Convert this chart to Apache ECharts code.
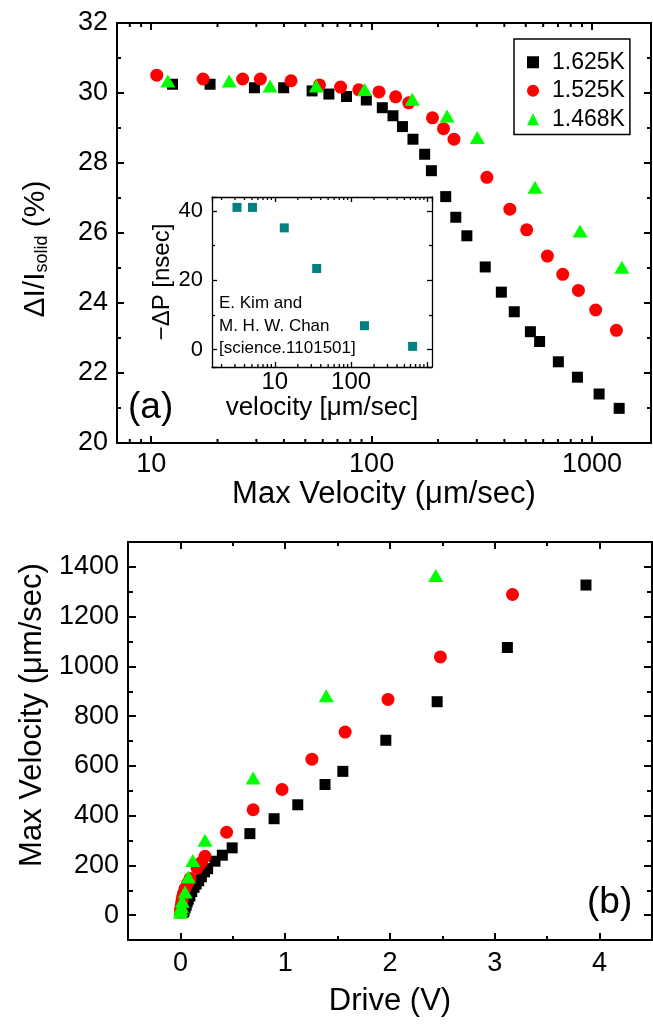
<!DOCTYPE html>
<html><head><meta charset="utf-8">
<script src="https://cdn.jsdelivr.net/npm/echarts@6/dist/echarts.min.js"></script>
<style>html,body{margin:0;padding:0;background:#fff}#c{width:653px;height:1024px}</style>
</head><body><div id="c"></div>
<script>
// ---------- data ----------
const seriesNames = ['1.625K', '1.525K', '1.468K'];
// Panel (a): max velocity (um/sec) vs dI/I_solid (%)
const blackVel   = [12.5, 18.5, 29.4, 39.9, 53.7, 64, 76.9, 94.6, 111.8, 125, 138, 154, 174, 186.7, 216.8, 240.9, 270.4, 327.6, 387.6, 443.6, 525, 578, 703, 858, 1076, 1327];
const blackRatio = [30.25, 30.25, 30.15, 30.15, 30.06, 29.97, 29.9, 29.8, 29.58, 29.35, 29.04, 28.68, 28.25, 27.78, 27.04, 26.45, 25.92, 25.03, 24.31, 23.75, 23.18, 22.9, 22.32, 21.88, 21.4, 20.99];
const redVel     = [10.6, 17.2, 26.0, 31.3, 43.1, 58.0, 72.3, 87.5, 108, 128.5, 147.3, 188.8, 211.9, 236.4, 333.2, 423.6, 505, 627, 736, 867, 1038, 1289];
const redRatio   = [30.51, 30.4, 30.4, 30.4, 30.35, 30.23, 30.17, 30.09, 30.03, 29.89, 29.72, 29.29, 28.98, 28.68, 27.59, 26.68, 26.09, 25.34, 24.82, 24.36, 23.8, 23.22];
const greenVel   = [11.9, 22.6, 34.6, 56.1, 92.9, 153, 219.9, 301.4, 550.8, 882, 1365];
const greenRatio = [30.34, 30.34, 30.2, 30.2, 30.1, 29.82, 29.34, 28.73, 27.31, 26.06, 25.02];
// Panel (b): drive (V) vs max velocity (um/sec)
const blackDrive = [0.03, 0.035, 0.045, 0.055, 0.065, 0.075, 0.09, 0.108, 0.13, 0.15, 0.175, 0.2, 0.23, 0.26, 0.33, 0.4, 0.494, 0.663, 0.894, 1.12, 1.38, 1.55, 1.96, 2.45, 3.12, 3.87];
const redDrive   = [0.001, 0.002, 0.004, 0.006, 0.01, 0.015, 0.022, 0.03, 0.045, 0.07, 0.092, 0.16, 0.2, 0.235, 0.441, 0.694, 0.97, 1.255, 1.572, 1.981, 2.481, 3.169];
const greenDrive = [0.001, 0.004, 0.01, 0.018, 0.045, 0.076, 0.118, 0.235, 0.694, 1.392, 2.437];
// Inset: velocity vs -dP (nsec)
const insetVel = [3.19, 5.09, 13.3, 35.4, 149.7, 640];
const insetDP  = [41, 41, 35.1, 23.4, 6.9, 0.95];
const insetNote = ['E. Kim and', 'M. H. W. Chan', '[science.1101501]'];
const insetXLabels = [10, 100];
// minor tick values for the log axes
const logMinorMain  = [8, 9, 20, 30, 40, 50, 60, 70, 80, 90, 200, 300, 400, 500, 600, 700, 800, 900];
const logMinorInset = [2, 3, 4, 5, 6, 7, 8, 9, 20, 30, 40, 50, 60, 70, 80, 90, 200, 300, 400, 500, 600, 700, 800, 900];

// ---------- chart ----------
const FONT = "'Liberation Sans', Arial, Helvetica, sans-serif";
const zip = (a, b) => a.map((v, i) => [v, b[i]]);
const fmt = (v) => String(Math.round(v * 1000) / 1000);

function ax(o) {
  const lw = o.lw || 2;
  return {
    gridIndex: o.grid, type: o.type || 'value', position: o.position,
    min: o.min, max: o.max, splitNumber: o.splitNumber,
    axisLine: { show: true, onZero: false, lineStyle: { color: '#000', width: lw } },
    axisTick: { show: true, inside: true, length: o.tickLen || 7, lineStyle: { color: '#000', width: lw } },
    minorTick: { show: !!o.minor, splitNumber: 2, length: o.minorLen || 4, lineStyle: { color: '#000', width: lw } },
    splitLine: { show: false }, minorSplitLine: { show: false },
    axisLabel: {
      show: !!o.labels, fontFamily: FONT, fontSize: o.fs || 27, color: '#000', margin: o.margin || 9,
      showMinLabel: !!o.showEnds, showMaxLabel: !!o.showEnds,
      formatter: o.formatter || fmt
    },
    name: o.name || '', nameLocation: 'middle', nameGap: o.nameGap || 30,
    nameTextStyle: o.nameTextStyle || { fontFamily: FONT, fontSize: o.nfs || 31, color: '#000', padding: o.namePad || 0 },
    silent: true
  };
}

function minorTickSeries(xi, yi, vals, yMin, yMax, len, lw) {
  return {
    type: 'custom', coordinateSystem: 'cartesian2d', xAxisIndex: xi, yAxisIndex: yi,
    silent: true, clip: false, z: 5,
    dimensions: ['x', 'y'], encode: { x: 0, y: 1 },
    data: vals.map(v => [v, yMin]),
    renderItem: (params, api) => {
      const v = api.value(0);
      const b = api.coord([v, yMin]);
      const t = api.coord([v, yMax]);
      return { type: 'group', children: [
        { type: 'line', shape: { x1: b[0], y1: b[1], x2: b[0], y2: b[1] - len }, style: { stroke: '#000', lineWidth: lw } },
        { type: 'line', shape: { x1: t[0], y1: t[1], x2: t[0], y2: t[1] + len }, style: { stroke: '#000', lineWidth: lw } }
      ] };
    }
  };
}

const TOP = { xmin: 7, xmax: 1850, ymin: 20, ymax: 32 };
const INS = { xmin: 1.5, xmax: 1150, ymin: -5, ymax: 44 };
const BOT = { xmin: -0.5, xmax: 4.5, ymin: -100, ymax: 1500 };

const option = {
  backgroundColor: '#fff',
  animation: false,
  textStyle: { fontFamily: FONT },
  grid: [
    { left: 117, top: 23, width: 534, height: 420, outerBoundsMode: 'none' },
    { left: 212, top: 197, width: 220, height: 170, outerBoundsMode: 'none' },
    { left: 128, top: 542, width: 524, height: 398, outerBoundsMode: 'none' }
  ],
  xAxis: [
    ax({ grid: 0, type: 'log', position: 'bottom', min: TOP.xmin, max: TOP.xmax, labels: true, margin: 8,
         name: 'Max Velocity (\u03BCm/sec)', nameGap: 36 }),
    ax({ grid: 0, type: 'log', position: 'top', min: TOP.xmin, max: TOP.xmax }),
    ax({ grid: 1, type: 'log', position: 'bottom', min: INS.xmin, max: INS.xmax, labels: true, fs: 24, margin: 3, lw: 1.3, tickLen: 5,
         formatter: (v) => insetXLabels.indexOf(Math.round(v)) >= 0 ? fmt(v) : '',
         name: 'velocity [\u03BCm/sec]', nameGap: 27, nfs: 26 }),
    ax({ grid: 1, type: 'log', position: 'top', min: INS.xmin, max: INS.xmax, lw: 1.3, tickLen: 5 }),
    ax({ grid: 2, position: 'bottom', min: BOT.xmin, max: BOT.xmax, splitNumber: 5, minor: true, labels: true, margin: 10,
         name: 'Drive (V)', nameGap: 46 }),
    ax({ grid: 2, position: 'top', min: BOT.xmin, max: BOT.xmax, splitNumber: 5, minor: true })
  ],
  yAxis: [
    ax({ grid: 0, position: 'left', min: TOP.ymin, max: TOP.ymax, splitNumber: 6, minor: true, labels: true, showEnds: true,
         name: '{m|\u0394I/I}{s|solid}{m| (%)}', nameGap: 66,
         nameTextStyle: { color: '#000', fontFamily: FONT, padding: [0, 32, 0, 0],
           rich: { m: { fontSize: 30, fontFamily: FONT, color: '#000' },
                   s: { fontSize: 18, fontFamily: FONT, color: '#000', padding: [13, 0, 0, 0] } } } }),
    ax({ grid: 0, position: 'right', min: TOP.ymin, max: TOP.ymax, splitNumber: 6, minor: true }),
    ax({ grid: 1, position: 'left', min: INS.ymin, max: INS.ymax, splitNumber: 2, minor: true, labels: true, fs: 22, margin: 9,
         lw: 1.3, tickLen: 5, minorLen: 3, name: '\u2212\u0394P [nsec]', nameGap: 37, nfs: 24 }),
    ax({ grid: 1, position: 'right', min: INS.ymin, max: INS.ymax, splitNumber: 2, minor: true, lw: 1.3, tickLen: 5, minorLen: 3 }),
    ax({ grid: 2, position: 'left', min: BOT.ymin, max: BOT.ymax, splitNumber: 8, minor: true, labels: true, margin: 9,
         tickLen: 8, minorLen: 5, name: 'Max Velocity (\u03BCm/sec)', nameGap: 78, namePad: [0, 0, 0, 52] }),
    ax({ grid: 2, position: 'right', min: BOT.ymin, max: BOT.ymax, splitNumber: 8, minor: true, tickLen: 8, minorLen: 5 })
  ],
  legend: {
    orient: 'vertical', left: 514, top: 39,
    data: seriesNames,
    borderColor: '#000', borderWidth: 1.5, padding: [9, 5, 1, 13],
    itemWidth: 12, itemHeight: 12, itemGap: 0,
    textStyle: { fontFamily: FONT, fontSize: 23, color: '#000', lineHeight: 28.5, padding: [0, 0, 0, 8] },
    selectedMode: false
  },
  graphic: [
    { type: 'text', x: 128, y: 408, style: { text: '(a)', font: '37px ' + FONT, fill: '#000', verticalAlign: 'middle' } },
    { type: 'text', x: 587, y: 903, style: { text: '(b)', font: '37px ' + FONT, fill: '#000', verticalAlign: 'middle' } },
    { type: 'text', x: 219, y: 303, style: { text: insetNote[0], font: '17px ' + FONT, fill: '#000', verticalAlign: 'middle' } },
    { type: 'text', x: 219, y: 326, style: { text: insetNote[1], font: '17px ' + FONT, fill: '#000', verticalAlign: 'middle' } },
    { type: 'text', x: 219, y: 348, style: { text: insetNote[2], font: '17px ' + FONT, fill: '#000', verticalAlign: 'middle' } }
  ],
  series: [
    { name: seriesNames[0], type: 'scatter', xAxisIndex: 0, yAxisIndex: 0, symbol: 'rect', symbolSize: 11,
      itemStyle: { color: '#000', opacity: 1 }, data: zip(blackVel, blackRatio) },
    { name: seriesNames[1], type: 'scatter', xAxisIndex: 0, yAxisIndex: 0, symbol: 'circle', symbolSize: 13,
      itemStyle: { color: '#ff0000', opacity: 1 }, data: zip(redVel, redRatio) },
    { name: seriesNames[2], type: 'scatter', xAxisIndex: 0, yAxisIndex: 0, symbol: 'triangle', symbolSize: [15, 13],
      itemStyle: { color: '#00ff00', opacity: 1 }, data: zip(greenVel, greenRatio) },
    { name: 'inset', type: 'scatter', xAxisIndex: 2, yAxisIndex: 2, symbol: 'rect', symbolSize: 9,
      itemStyle: { color: '#008080', opacity: 1 }, data: zip(insetVel, insetDP) },
    { name: seriesNames[0], type: 'scatter', xAxisIndex: 4, yAxisIndex: 4, symbol: 'rect', symbolSize: 11,
      itemStyle: { color: '#000', opacity: 1 }, data: zip(blackDrive, blackVel) },
    { name: seriesNames[1], type: 'scatter', xAxisIndex: 4, yAxisIndex: 4, symbol: 'circle', symbolSize: 13,
      itemStyle: { color: '#ff0000', opacity: 1 }, data: zip(redDrive, redVel) },
    { name: seriesNames[2], type: 'scatter', xAxisIndex: 4, yAxisIndex: 4, symbol: 'triangle', symbolSize: [15, 13],
      itemStyle: { color: '#00ff00', opacity: 1 }, data: zip(greenDrive, greenVel) },
    minorTickSeries(0, 0, logMinorMain, TOP.ymin, TOP.ymax, 4, 2),
    minorTickSeries(2, 2, logMinorInset.filter(v => v > INS.xmin && v < INS.xmax), INS.ymin, INS.ymax, 3, 1.3)
  ]
};

const chart = echarts.init(document.getElementById('c'), null, { renderer: 'canvas' });
chart.setOption(option);
</script></body></html>
